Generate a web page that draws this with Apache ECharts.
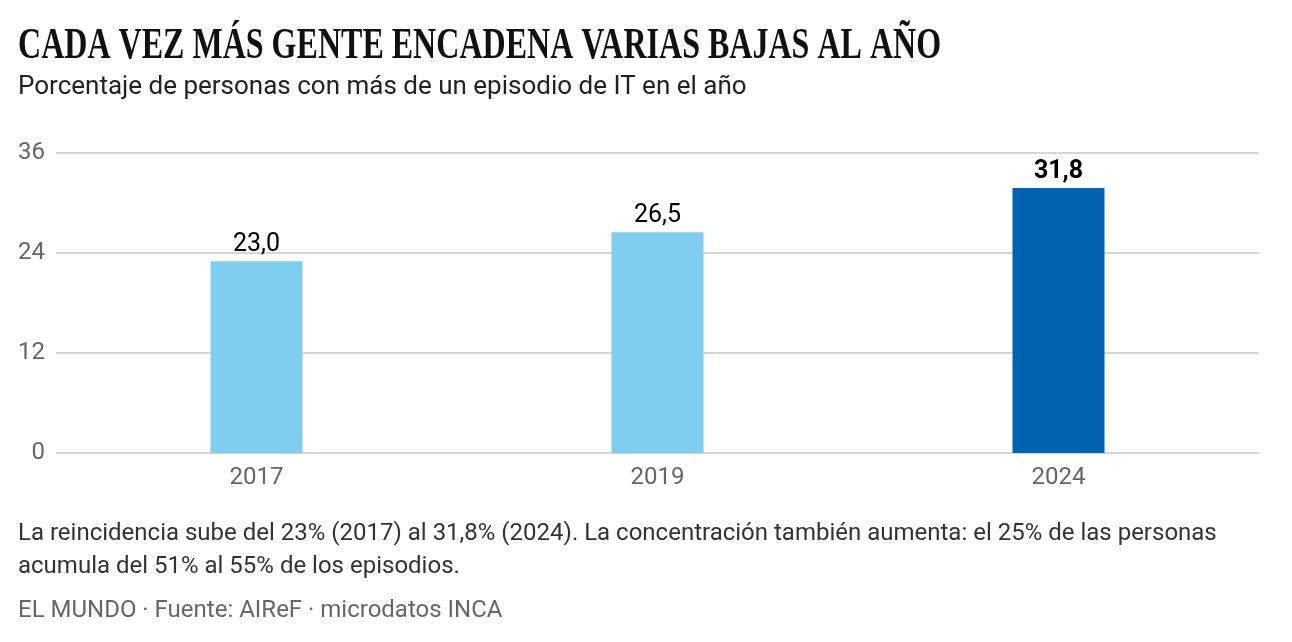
<!DOCTYPE html>
<html style="height: 100%">
  <head>
    <meta charset="utf-8" />
  </head>
  <body style="height: 100%; margin: 0; background: #fff">
    <div id="container" style="width: 1292px; height: 642px"></div>

    <script src="https://cdn.jsdelivr.net/npm/echarts@6/dist/echarts.min.js"></script>
    <script type="text/javascript">
      var years = ["2017", "2019", "2024"];
      var values = [23.0, 26.5, 31.8];
      var yTicks = [0, 12, 24, 36];

      var titleText = "CADA VEZ MÁS GENTE ENCADENA VARIAS BAJAS AL AÑO";
      var subtitleText = "Porcentaje de personas con más de un episodio de IT en el año";
      var noteLines = [
        "La reincidencia sube del 23% (2017) al 31,8% (2024). La concentración también aumenta: el 25% de las personas",
        "acumula del 51% al 55% de los episodios.",
      ];
      var sourceText = "EL MUNDO · Fuente: AIReF · microdatos INCA";

      var dom = document.getElementById("container");
      var myChart = echarts.init(dom, null, { renderer: "canvas" });

      var last = values.length - 1;
      var barData = values.map(function (v, i) {
        var hl = i === last;
        return {
          value: v,
          itemStyle: { color: hl ? "#0063b1" : "#80ceef" },
          label: { fontWeight: hl ? "bold" : "normal" },
        };
      });

      var option = {
        backgroundColor: "#fff",
        animation: false,
        grid: { left: 56, right: 33, top: 153, bottom: 189 },
        graphic: [
          {
            type: "text",
            left: 18,
            top: 25,
            scaleX: 0.728,
            style: {
              text: titleText,
              font: "bold 44px 'Liberation Serif'",
              fill: "#111",
            },
          },
          {
            type: "text",
            left: 18,
            top: 74,
            style: {
              text: subtitleText,
              font: "26px Roboto",
              fill: "#222",
            },
          },
          {
            type: "text",
            left: 18,
            top: 517,
            style: {
              text: noteLines.join("\n"),
              font: "24px Roboto",
              lineHeight: 33,
              fill: "#333",
            },
          },
          {
            type: "text",
            left: 18,
            top: 599,
            style: {
              text: sourceText,
              font: "24px Roboto",
              fill: "#666",
            },
          },
        ],
        xAxis: {
          type: "category",
          data: years,
          axisLine: { show: false },
          axisTick: { show: false },
          axisLabel: {
            color: "#666",
            fontFamily: "Roboto",
            fontSize: 24,
            margin: 13,
          },
        },
        yAxis: {
          type: "value",
          min: 0,
          max: 36,
          interval: 12,
          axisLine: { show: false },
          axisTick: { show: false },
          axisLabel: {
            color: "#666",
            fontFamily: "Roboto",
            fontSize: 24,
            margin: 11,
          },
          splitLine: { lineStyle: { color: "#c8c8c8", width: 1.5 } },
        },
        series: [
          {
            type: "bar",
            data: barData,
            barWidth: 92,
            label: {
              show: true,
              position: "top",
              distance: 4,
              color: "#000",
              fontFamily: "Roboto",
              fontSize: 25,
              formatter: function (p) {
                return p.value.toFixed(1).replace(".", ",");
              },
            },
          },
        ],
      };

      myChart.setOption(option);
    </script>
  </body>
</html>
